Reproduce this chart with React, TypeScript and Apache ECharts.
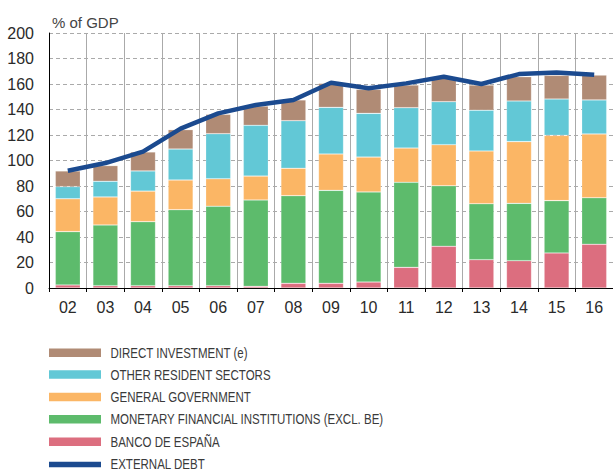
import React, { useEffect, useRef } from "react";
import * as echarts from "echarts";

const years = ["02", "03", "04", "05", "06", "07", "08", "09", "10", "11", "12", "13", "14", "15", "16"];
const bancoDeEspana = [2.4, 1.8, 1.8, 1.8, 1.8, 1.3, 3.7, 3.7, 4.7, 16.2, 32.7, 22.2, 21.4, 27.5, 34.3];
const monetaryFin = [41.8, 47.6, 50.2, 59.6, 62.3, 67.7, 68.7, 72.9, 70.6, 66.7, 47.5, 43.9, 45.0, 41.0, 36.5];
const generalGov = [25.8, 22.0, 24.0, 23.3, 21.6, 18.8, 21.5, 28.5, 27.4, 26.9, 32.2, 41.4, 48.4, 51.2, 50.0];
const otherResident = [9.5, 12.3, 15.8, 24.3, 35.3, 39.8, 37.3, 36.6, 34.3, 31.6, 33.7, 31.9, 31.9, 28.5, 26.7];
const directInvestment = [12.3, 12.3, 14.9, 15.2, 15.2, 15.1, 16.3, 18.8, 18.8, 17.8, 18.4, 19.8, 19.0, 18.6, 19.5];
const externalDebt = [92, 98, 107, 125, 137, 143.5, 147.5, 161, 156.6, 160.5, 165.7, 160, 167.8, 169, 167.3];
const yTicks = { min: 0, max: 200, interval: 20 };
const legendNames = [
  "DIRECT INVESTMENT (e)",
  "OTHER RESIDENT SECTORS",
  "GENERAL GOVERNMENT",
  "MONETARY FINANCIAL INSTITUTIONS (EXCL. BE)",
  "BANCO DE ESPAÑA",
  "EXTERNAL DEBT",
];

const COLORS = {
  banco: "#dc6e7f",
  mfi: "#5dbb6c",
  gg: "#fbb665",
  ors: "#62c8d6",
  di: "#b08b75",
  debt: "#1b4a8f",
};
const legendColors = [COLORS.di, COLORS.ors, COLORS.gg, COLORS.mfi, COLORS.banco, COLORS.debt];

export default function App() {
  const ref = useRef<HTMLDivElement>(null);
  useEffect(() => {
    document.body.style.margin = "0";
    const chart = echarts.init(ref.current!, null, { renderer: "svg" });
    const barCommon = { type: "bar", stack: "total", barWidth: 25 };
    const segBorder = { borderColor: "rgba(255,255,255,0.35)", borderWidth: 0.6 };
    const rowCenters = [352.7, 374.6, 397, 419.3, 441.8, 464.5];
    const legendGraphics: any[] = [];
    legendNames.forEach((name, i) => {
      const h = i === legendNames.length - 1 ? 5.5 : 8.5;
      legendGraphics.push({
        type: "rect",
        shape: { x: 49, y: rowCenters[i] - h / 2, width: 52, height: h },
        style: { fill: legendColors[i] },
      });
      legendGraphics.push({
        type: "text",
        x: 110.5,
        y: rowCenters[i],
        scaleX: 0.795,
        style: {
          text: name,
          fontSize: 14.5,
          fill: "#3a3a3a",
          fontFamily: "Liberation Sans, Arial, sans-serif",
          verticalAlign: "middle",
          align: "left",
        },
      });
    });
    chart.setOption({
      animation: false,
      textStyle: { fontFamily: "Liberation Sans, Arial, sans-serif" },
      title: {
        text: "% of GDP",
        left: 47,
        top: 10,
        textStyle: { fontSize: 15, fontWeight: "normal", color: "#444" },
      },
      grid: { left: 49, top: 33, height: 255, width: 568, containLabel: false },
      xAxis: {
        type: "category",
        data: years,
        boundaryGap: true,
        axisLine: { lineStyle: { color: "#000", width: 1 } },
        axisTick: { show: true, length: 4, lineStyle: { color: "#000" } },
        axisLabel: { fontSize: 16, color: "#2a2a2a", margin: 11 },
        splitLine: { show: true, interval: 0, lineStyle: { color: "#aaa", width: 1 } },
      },
      yAxis: {
        type: "value",
        min: yTicks.min,
        max: yTicks.max,
        interval: yTicks.interval,
        axisLine: { show: true, lineStyle: { color: "#000", width: 1 } },
        axisTick: { show: false },
        axisLabel: { fontSize: 16, color: "#2a2a2a", margin: 15 },
        splitLine: { show: true, lineStyle: { color: "#aaa", type: [4, 3], width: 1 } },
      },
      graphic: legendGraphics,
      series: [
        { ...barCommon, name: "BANCO DE ESPAÑA", data: bancoDeEspana, itemStyle: { color: COLORS.banco, ...segBorder } },
        { ...barCommon, name: "MONETARY FINANCIAL INSTITUTIONS (EXCL. BE)", data: monetaryFin, itemStyle: { color: COLORS.mfi, ...segBorder } },
        { ...barCommon, name: "GENERAL GOVERNMENT", data: generalGov, itemStyle: { color: COLORS.gg, ...segBorder } },
        { ...barCommon, name: "OTHER RESIDENT SECTORS", data: otherResident, itemStyle: { color: COLORS.ors, ...segBorder } },
        { ...barCommon, name: "DIRECT INVESTMENT (e)", data: directInvestment, itemStyle: { color: COLORS.di, ...segBorder } },
        {
          type: "line",
          name: "EXTERNAL DEBT",
          data: externalDebt,
          symbol: "none",
          z: 5,
          lineStyle: { color: COLORS.debt, width: 4.5 },
          itemStyle: { color: COLORS.debt },
        },
      ],
    });
    return () => chart.dispose();
  }, []);
  return <div ref={ref} style={{ width: 613, height: 472 }} />;
}
